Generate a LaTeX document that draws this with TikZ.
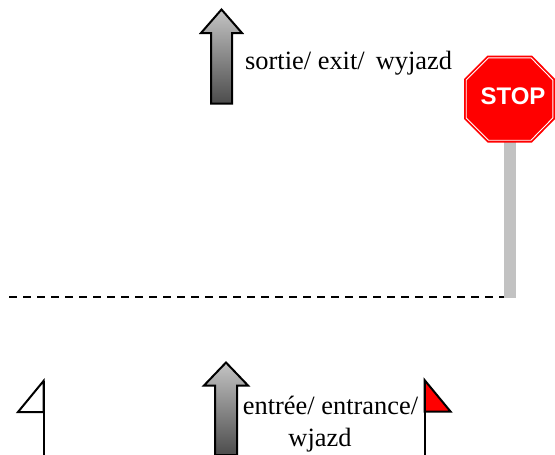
\documentclass[tikz,border=0pt]{standalone}
\usepackage{fontspec}
\setmainfont{Liberation Serif}
\newfontfamily\signfont{Liberation Sans}
\begin{document}
\begin{tikzpicture}[x=1pt,y=-1pt,
  bigarrow/.style={draw=black,line width=2pt,line join=miter,top color=gargray,bottom color=gardark},
  flagline/.style={draw=black,line width=2pt,line join=miter},
  lbl/.style={font=\fontsize{26.4}{32}\selectfont,inner sep=0pt,align=center,text=black}]
\definecolor{gargray}{HTML}{C4C4C4}
\definecolor{gardark}{HTML}{4C4C4C}
\definecolor{polegray}{HTML}{C2C2C2}
\useasboundingbox (0,0) rectangle (555,455);
% top arrow
\path[bigarrow] (221.5,9.5) -- (242,33) -- (232,33) -- (232,103.5) -- (211,103.5) -- (211,33) -- (201,33) -- cycle;
\node[lbl,anchor=base west] (exitlabel) at (245,69) {sortie/ exit/\ \hspace{4.5pt}wyjazd};
% pole and sign
\fill[polegray] (504,142) rectangle (516,298);
\fill[red] (487.5,55.5) -- (532,55.5) -- (555,79) -- (555,119) -- (532,142.5) -- (487.5,142.5) -- (464,119) -- (464,79) -- cycle;
\draw[white,line width=0.9pt] (488.5,57.8) -- (531,57.8) -- (552.8,80) -- (552.8,118) -- (531,140.2) -- (488.5,140.2) -- (466.2,118) -- (466.2,80) -- cycle;
\node[font=\signfont\bfseries\fontsize{24}{26}\selectfont,text=white,inner sep=0pt] (stoplabel) at (513,96.5) {STOP};
% dashed line
\draw[black,line width=2pt,dash pattern=on 8pt off 6pt] (9,296.5) -- (504,296.5);
% bottom arrow
\path[bigarrow] (226,362.5) -- (248,385.5) -- (237,385.5) -- (237,455) -- (215,455) -- (215,385.5) -- (204,385.5) -- cycle;
\node[lbl,anchor=north] (entrylabel) at (330.5,396) {entrée/ entrance/\\wjazd\hspace*{21pt}};
% flags
\draw[flagline] (43.5,381) -- (18,412) -- (43.5,412) -- cycle;
\draw[flagline] (43.5,381) -- (43.5,455);
\draw[flagline,fill=red] (424.5,380) -- (450.5,411.5) -- (424.5,411.5) -- cycle;
\draw[flagline] (424.5,380) -- (424.5,455);
\end{tikzpicture}
\end{document}
